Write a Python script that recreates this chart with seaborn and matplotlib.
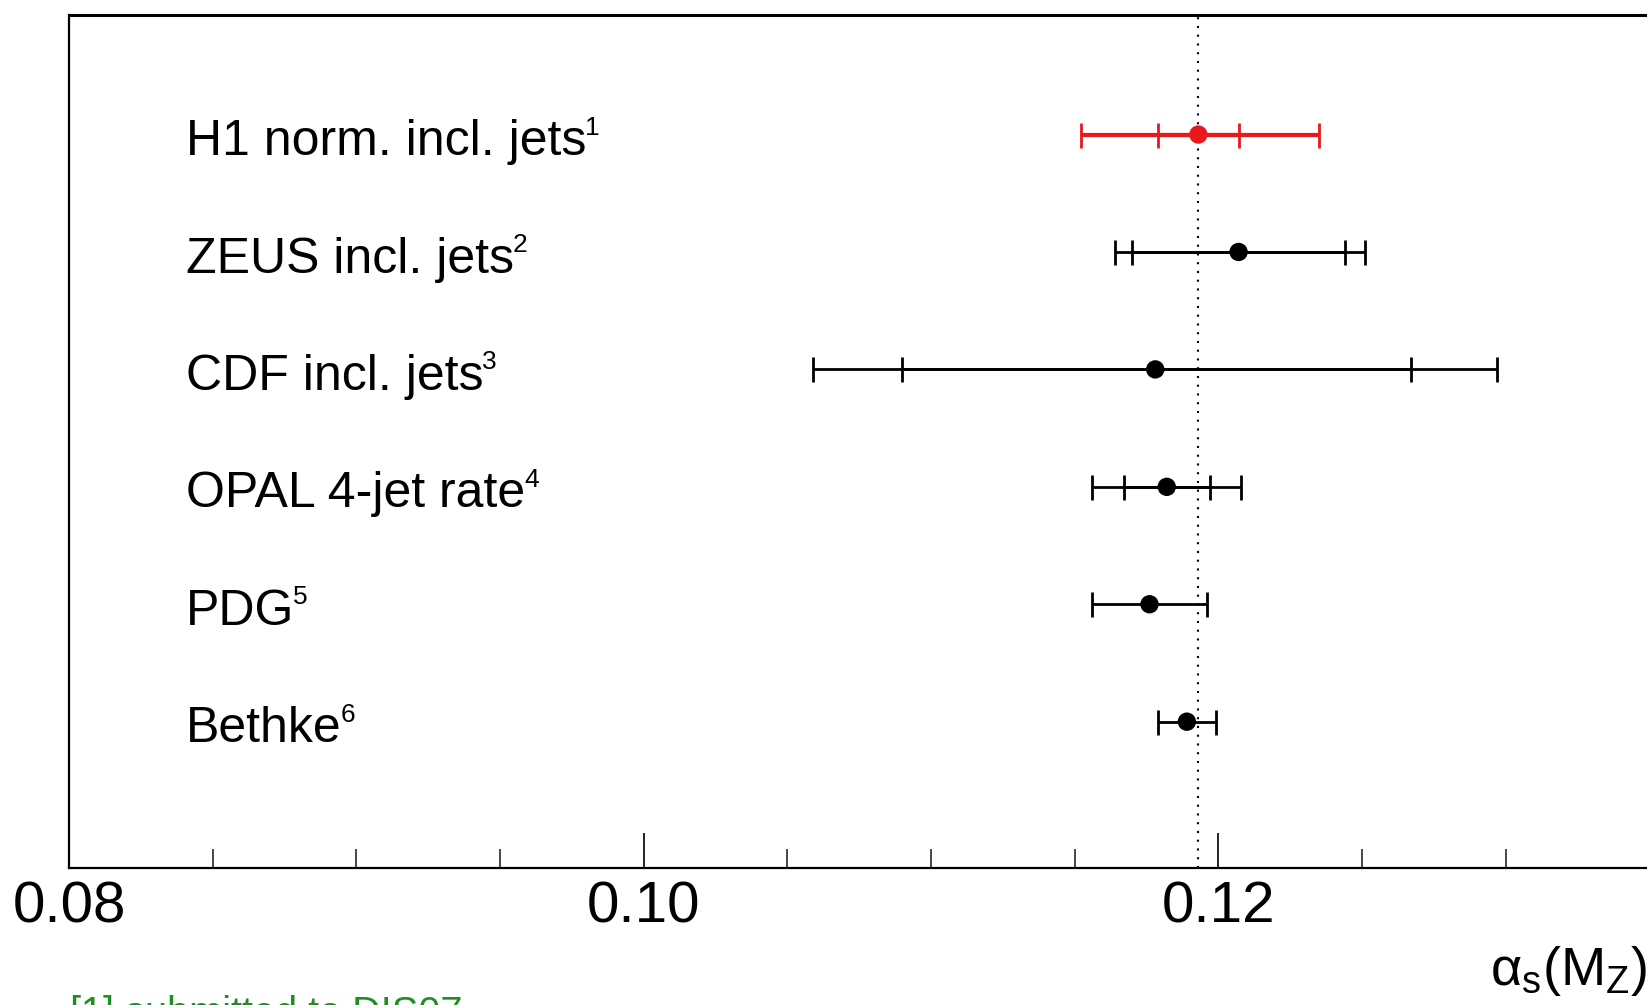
import numpy as np
import pandas as pd
import matplotlib
matplotlib.use("Agg")
import matplotlib.pyplot as plt
from matplotlib.ticker import MultipleLocator, FixedLocator
import seaborn as sns

# ---------------- data ----------------
labels = ["H1 norm. incl. jets", "ZEUS incl. jets", "CDF incl. jets",
          "OPAL 4-jet rate", "PDG", "Bethke"]
refs = ["1", "2", "3", "4", "5", "6"]
values = [0.1193, 0.1207, 0.1178, 0.1182, 0.1176, 0.1189]
inner_lo = [0.0014, 0.0037, 0.0088, 0.0015, 0.0, 0.0]
inner_hi = [0.0014, 0.0037, 0.0089, 0.0015, 0.0, 0.0]
total_lo = [0.0041, 0.0043, 0.0119, 0.0026, 0.0020, 0.0010]
total_hi = [0.0042, 0.0044, 0.0119, 0.0026, 0.0020, 0.0010]
groups = ["H1", "other", "other", "other", "other", "other"]
ref_line = 0.1193
x_ticks = [0.08, 0.10, 0.12]
x_tick_labels = ["0.08", "0.10", "0.12"]
footnote = "[1] submitted to DIS07"

# ---------------- style ----------------
sns.set_theme(style="white")
plt.rcParams["font.family"] = ["Liberation Sans", "DejaVu Sans"]
plt.rcParams["mathtext.fontset"] = "custom"
plt.rcParams["mathtext.rm"] = "Liberation Sans"
plt.rcParams["mathtext.it"] = "Liberation Sans:italic"
plt.rcParams["mathtext.bf"] = "Liberation Sans:bold"

n = len(labels)
df = pd.DataFrame({
    "label": labels, "value": values, "group": groups,
    "ypos": np.arange(n, 0, -1),
})

fig = plt.figure(figsize=(16.47, 10.05), dpi=100)
W, H = 1647.0, 1005.0
px_per_unit = 28737.0
x0, x1 = 0.08, 0.14
ax = fig.add_axes([69 / W, (H - 868) / H, (x1 - x0) * px_per_unit / W, (868 - 15) / H])

palette = {"H1": "#e8191c", "other": "black"}

# error bars
for i, row in df.iterrows():
    col = palette[row["group"]]
    lw = 3.0 if row["group"] == "H1" else 2.0
    ax.errorbar(row["value"], row["ypos"],
                xerr=[[total_lo[i]], [total_hi[i]]],
                fmt="none", ecolor=col, elinewidth=lw,
                capsize=9, capthick=2.0, zorder=3)
    if inner_lo[i] > 0:
        ax.errorbar(row["value"], row["ypos"],
                    xerr=[[inner_lo[i]], [inner_hi[i]]],
                    fmt="none", ecolor=col, elinewidth=lw,
                    capsize=9, capthick=2.0, zorder=3)

sns.scatterplot(data=df, x="value", y="ypos", hue="group", palette=palette,
                s=175, edgecolor="none", legend=False, ax=ax, zorder=5)

# reference dotted line
ax.axvline(ref_line, color="black", lw=1.5, linestyle=(0, (1, 3.2)), zorder=2)

# row labels with small superscript references
for i, row in df.iterrows():
    t = ax.text(0.068, row["ypos"] - 0.175, labels[i],
                transform=ax.get_yaxis_transform(), fontsize=36,
                ha="left", va="baseline", color="black")
    ax.annotate(refs[i], xy=(1.0, 1.0), xycoords=t,
                xytext=(-1.0, 2.5), textcoords="offset points",
                fontsize=19, ha="left", va="top", color="black")

ax.set_xlim(x0, x1)
ax.set_ylim(-0.246, 7.018)
ax.set_xlabel("")
ax.set_ylabel("")
ax.xaxis.set_major_locator(FixedLocator(x_ticks))
ax.set_xticklabels(x_tick_labels)
ax.xaxis.set_minor_locator(MultipleLocator(0.005))
ax.set_yticks([])
ax.tick_params(axis="x", which="major", direction="in", length=25, width=1.2,
               labelsize=42, pad=9, colors="black", bottom=True, top=False)
ax.tick_params(axis="x", which="minor", direction="in", length=13.7, width=1.2,
               bottom=True, top=False)
for side in ["left", "bottom", "top", "right"]:
    ax.spines[side].set_color("black")
    ax.spines[side].set_linewidth(1.6)
ax.spines["top"].set_linewidth(2.2)

# axis title and footnote
fig.text(1.0, (H - 985) / H, r"$\mathrm{\alpha_{s}(M_{Z})}$", fontsize=39,
         ha="right", va="baseline", color="black")
fig.text(70 / W, (H - 1025) / H, footnote, fontsize=28.6, color="#1f8f1f",
         ha="left", va="baseline")

fig.savefig("out.png", dpi=100)
